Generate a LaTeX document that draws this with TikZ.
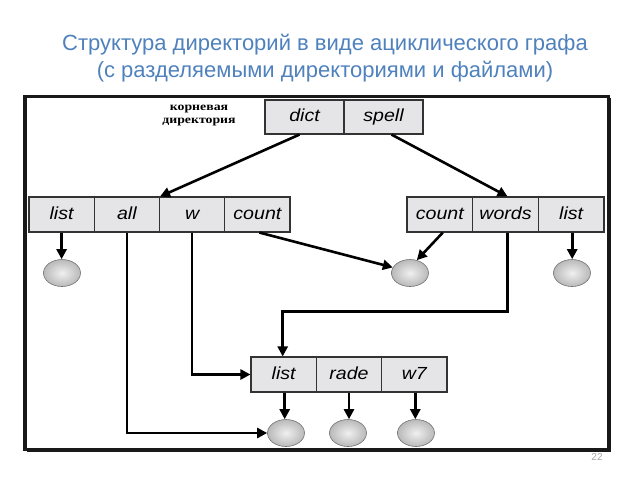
\documentclass[tikz,border=0pt]{standalone}
\usepackage{fontspec}
\setmainfont{Liberation Sans}
\newfontfamily\lblfont[FakeStretch=1.12]{Liberation Sans}
\newfontfamily\rootfont[FakeStretch=1.2]{Liberation Serif}
\usetikzlibrary{shapes.geometric,arrows.meta}
\definecolor{titleblue}{RGB}{79,129,189}
\definecolor{cellgray}{RGB}{229,229,232}
\begin{document}
\begin{tikzpicture}[x=1pt,y=-1pt,
  cell/.style={draw=black!80, line width=1.1pt, fill=cellgray, minimum height=35pt,
    inner sep=0pt, text height=12.5pt, text depth=3pt,
    font=\lblfont\itshape\fontsize{17.5}{17.5}\selectfont},
  lcell/.style={cell, minimum width=65.25pt},
  rcell/.style={cell, minimum width=65.67pt},
  tcell/.style={cell, minimum width=79pt, minimum height=34pt},
  bcell/.style={cell, minimum width=65.33pt},
  file/.style={ellipse, draw=black!55, line width=0.6pt, minimum width=37pt, minimum height=27pt,
    inner sep=0pt, inner color=gray!12, outer color=gray!55},
  arr/.style={line width=2.6pt, -{Triangle[length=10pt,width=10pt]}}
]
\useasboundingbox (0,0) rectangle (640,480);
% title
\node[text=titleblue, font=\fontsize{22}{27}\selectfont, align=center] (title) at (325,58)
  {Структура директорий в виде ациклического графа\\(с разделяемыми директориями и файлами)};
% frame
\draw[line width=3.5pt, black!90] (25,96.5) rectangle (608.5,449.5);
\draw[line width=1.5pt, black!90] (27,451.5) -- (610.5,451.5) -- (610.5,98);
% root label
\node[font=\rootfont\bfseries\fontsize{11.5}{13}\selectfont, align=center] (rootlbl) at (199,115.5)
  {корневая\\директория};
% top row
\node[tcell] (dict) at (304.5,117) {dict};
\node[tcell] (spell) at (383.5,117) {spell};
% left row
\node[lcell] (Llist) at (61.6,214.5) {list};
\node[lcell] (Lall) at (126.9,214.5) {all};
\node[lcell] (Lw) at (192.1,214.5) {w};
\node[lcell] (Lcount) at (257.4,214.5) {count};
% right row
\node[rcell] (Rcount) at (439.8,214.5) {count};
\node[rcell] (Rwords) at (505.5,214.5) {words};
\node[rcell] (Rlist) at (571.2,214.5) {list};
% bottom row
\node[bcell] (Blist) at (283.7,374.5) {list};
\node[bcell] (Brade) at (349,374.5) {rade};
\node[bcell] (Bw7) at (414.3,374.5) {w7};
% files
\node[file] (c1) at (62,273) {};
\node[file] (c2) at (410,273) {};
\node[file] (c3) at (572,273) {};
\node[file] (b1) at (286,433) {};
\node[file] (b2) at (348,433) {};
\node[file] (b3) at (416,433) {};
% connectors
\draw[arr] ([xshift=-5pt]dict.south) -- (Lall.north east);
\draw[arr] ([xshift=8pt]spell.south) -- ([xshift=2pt]Rwords.north);
\draw[arr] (Llist.south) -- (Llist.south |- c1.north);
\draw[arr] ([xshift=2pt]Lcount.south) -- (c2.162);
\draw[arr] ([xshift=3pt]Rcount.south) -- (c2.62);
\draw[arr] ([xshift=1pt]Rlist.south) -- ([xshift=1pt]Rlist.south |- c3.north);
\draw[arr] ([xshift=2pt]Rwords.south) -- ++(0,79) -| ([xshift=-1pt]Blist.north);
\draw[arr] (Lw.south) |- (Blist.west);
\draw[arr] (Lall.south) |- (b1.west);
\draw[arr] ([xshift=1pt]Blist.south) -- ([xshift=1pt]Blist.south |- b1.north);
\draw[arr] (Brade.south) -- (Brade.south |- b2.north);
\draw[arr] ([xshift=1pt]Bw7.south) -- ([xshift=1pt]Bw7.south |- b3.north);
% page number
\node[text=black!35, font=\fontsize{10}{12}\selectfont] (pnum) at (597,457.5) {22};
\end{tikzpicture}
\end{document}
